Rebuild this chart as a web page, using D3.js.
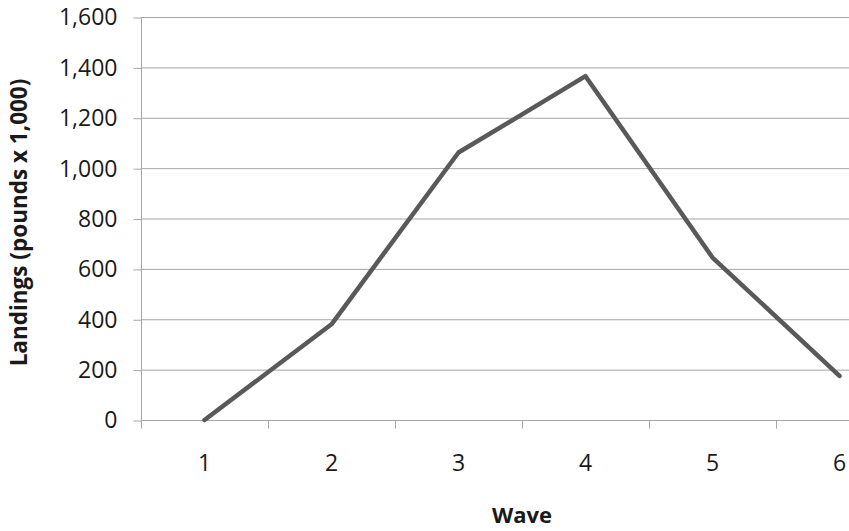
<!DOCTYPE html>
<html><head><meta charset="utf-8">
<script src="https://cdn.jsdelivr.net/npm/d3@7"></script>
<style>body{margin:0;background:#fff}svg{display:block}</style>
</head><body>
<svg id="c" width="849" height="531"></svg>
<script>
const categories = ["1","2","3","4","5","6"];
const landings = [0, 380, 1062, 1365, 645, 175];
const yTicks = [0,200,400,600,800,1000,1200,1400,1600];

(function(){
const svg = d3.select("#c");
const font = "'Open Sans', sans-serif";
const pL = 141, pR = 903, pT = 17, pB = 420;
const x = d3.scaleBand().domain(categories).range([pL, pR]);
const y = d3.scaleLinear().domain([0,1600]).range([pB, pT]);

// gridlines
svg.append("g").selectAll("line").data(yTicks.filter(d=>d>0)).join("line")
  .attr("x1", pL).attr("x2", pR)
  .attr("y1", d=>y(d)+0.5).attr("y2", d=>y(d)+0.5)
  .attr("stroke", "#a6a6a6").attr("stroke-width", 1);

// y axis
const ya = svg.append("g").attr("transform", `translate(${pL+0.5},0.5)`)
  .call(d3.axisLeft(y).tickValues(yTicks).tickSize(8).tickPadding(16).tickFormat(d3.format(",")));
ya.select(".domain").attr("stroke", "#a6a6a6").attr("d", `M0,${pT}V${pB}`);
ya.selectAll(".tick line").attr("stroke", "#a6a6a6");
ya.selectAll("text").attr("font-family", font).attr("font-size", 23).attr("fill", "#1a1a1a");

// x axis
const xa = svg.append("g").attr("transform", `translate(0,${pB+0.5})`);
xa.append("line").attr("x1", pL).attr("x2", pR).attr("stroke", "#a6a6a6");
const bounds = categories.map(c=>x(c)).concat([pR]);
xa.selectAll("line.t").data(bounds).join("line").attr("class","t")
  .attr("x1", d=>d+0.5).attr("x2", d=>d+0.5).attr("y1", 0).attr("y2", 8).attr("stroke", "#a6a6a6");
xa.selectAll("text").data(categories).join("text")
  .attr("x", d=>x(d)+x.bandwidth()/2).attr("y", 50).attr("text-anchor","middle")
  .attr("font-family", font).attr("font-size", 23).attr("fill", "#1a1a1a").text(d=>d);

// line
const line = d3.line().x((d,i)=>x(categories[i])+x.bandwidth()/2).y(d=>y(d));
svg.append("path").datum(landings).attr("d", line)
  .attr("fill","none").attr("stroke","#595959").attr("stroke-width",4.5)
  .attr("stroke-linejoin","round").attr("stroke-linecap","round");

// axis titles
svg.append("text").attr("x", (pL+pR)/2).attr("y", 523).attr("text-anchor","middle")
  .attr("font-family", font).attr("font-weight","bold").attr("font-size",22).attr("fill","#1a1a1a").text("Wave");
svg.append("text").attr("transform",`translate(27,${(pT+pB)/2+4}) rotate(-90)`).attr("text-anchor","middle")
  .attr("font-family", font).attr("font-weight","bold").attr("font-size",22.5).attr("fill","#1a1a1a").text("Landings (pounds x 1,000)");
})();
</script>
</body></html>
